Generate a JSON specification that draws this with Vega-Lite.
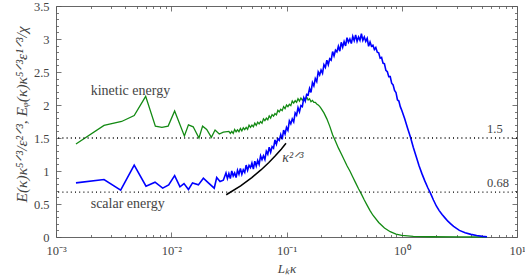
{
  "$schema": "https://vega.github.io/schema/vega-lite/v6.json",
  "width": 461,
  "height": 231,
  "autosize": "none",
  "padding": {"left": 56, "top": 6, "right": 8, "bottom": 40},
  "background": "white",
  "config": {
    "view": {"stroke": "#666", "strokeWidth": 1},
    "axis": {"domain": false, "grid": false, "tickColor": "#555", "tickWidth": 0.8, "labelFont": "Liberation Serif", "labelFontSize": 12.5, "labelColor": "#444", "titleFont": "Liberation Serif", "titleFontSize": 12.5, "titleColor": "#444", "titleFontWeight": "normal"}
  },
  "datasets": {
    "curves": [
      {"s":"kinetic","k":0.00149,"E":1.41},{"s":"kinetic","k":0.00261,"E":1.69},{"s":"kinetic","k":0.00371,"E":1.75},{"s":"kinetic","k":0.00477,"E":1.84},{"s":"kinetic","k":0.0060,"E":2.13},{"s":"kinetic","k":0.00728,"E":1.68},{"s":"kinetic","k":0.0083,"E":1.66},{"s":"kinetic","k":0.0094,"E":1.68},{"s":"kinetic","k":0.0107,"E":1.91},{"s":"kinetic","k":0.0130,"E":1.53},{"s":"kinetic","k":0.0141,"E":1.70},{"s":"kinetic","k":0.0155,"E":1.67},{"s":"kinetic","k":0.0174,"E":1.50},{"s":"kinetic","k":0.0187,"E":1.68},{"s":"kinetic","k":0.0203,"E":1.63},{"s":"kinetic","k":0.0223,"E":1.51},{"s":"kinetic","k":0.024,"E":1.62},{"s":"kinetic","k":0.0261,"E":1.56},{"s":"kinetic","k":0.0283,"E":1.59},
      {"s":"kinetic","k":0.03162,"E":1.60},{"s":"kinetic","k":0.03255,"E":1.57},{"s":"kinetic","k":0.0335,"E":1.60},{"s":"kinetic","k":0.03448,"E":1.57},{"s":"kinetic","k":0.03548,"E":1.63},{"s":"kinetic","k":0.03652,"E":1.595},{"s":"kinetic","k":0.03758,"E":1.625},{"s":"kinetic","k":0.03868,"E":1.595},{"s":"kinetic","k":0.03981,"E":1.645},{"s":"kinetic","k":0.04097,"E":1.607},{"s":"kinetic","k":0.04217,"E":1.655},{"s":"kinetic","k":0.0434,"E":1.627},{"s":"kinetic","k":0.04467,"E":1.66},{"s":"kinetic","k":0.04597,"E":1.632},{"s":"kinetic","k":0.04732,"E":1.695},{"s":"kinetic","k":0.0487,"E":1.662},{"s":"kinetic","k":0.05012,"E":1.695},{"s":"kinetic","k":0.05158,"E":1.67},{"s":"kinetic","k":0.05309,"E":1.725},{"s":"kinetic","k":0.05464,"E":1.69},{"s":"kinetic","k":0.05623,"E":1.74},{"s":"kinetic","k":0.05788,"E":1.715},{"s":"kinetic","k":0.05957,"E":1.75},{"s":"kinetic","k":0.06131,"E":1.725},{"s":"kinetic","k":0.0631,"E":1.79},{"s":"kinetic","k":0.06494,"E":1.762},{"s":"kinetic","k":0.06683,"E":1.80},{"s":"kinetic","k":0.06879,"E":1.777},{"s":"kinetic","k":0.07079,"E":1.835},{"s":"kinetic","k":0.07286,"E":1.802},{"s":"kinetic","k":0.07499,"E":1.855},{"s":"kinetic","k":0.07718,"E":1.832},{"s":"kinetic","k":0.07943,"E":1.87},{"s":"kinetic","k":0.08175,"E":1.85},{"s":"kinetic","k":0.08414,"E":1.92},{"s":"kinetic","k":0.0866,"E":1.895},{"s":"kinetic","k":0.08913,"E":1.935},{"s":"kinetic","k":0.09173,"E":1.915},{"s":"kinetic","k":0.09441,"E":1.975},{"s":"kinetic","k":0.09716,"E":1.945},{"s":"kinetic","k":0.1,"E":2.00},{"s":"kinetic","k":0.1029,"E":1.975},{"s":"kinetic","k":0.1059,"E":2.01},{"s":"kinetic","k":0.109,"E":1.99},{"s":"kinetic","k":0.1122,"E":2.06},{"s":"kinetic","k":0.1155,"E":2.03},{"s":"kinetic","k":0.1189,"E":2.065},{"s":"kinetic","k":0.1223,"E":2.04},{"s":"kinetic","k":0.1259,"E":2.095},{"s":"kinetic","k":0.1296,"E":2.06},{"s":"kinetic","k":0.1334,"E":2.105},{"s":"kinetic","k":0.1372,"E":2.075},{"s":"kinetic","k":0.1413,"E":2.105},{"s":"kinetic","k":0.1454,"E":2.07},{"s":"kinetic","k":0.1496,"E":2.12},{"s":"kinetic","k":0.154,"E":2.075},{"s":"kinetic","k":0.1585,"E":2.095},{"s":"kinetic","k":0.1631,"E":2.05},{"s":"kinetic","k":0.1679,"E":2.07},{"s":"kinetic","k":0.1728,"E":2.04},{"s":"kinetic","k":0.1778,"E":2.04},{"s":"kinetic","k":0.183,"E":2.015},{"s":"kinetic","k":0.1884,"E":2.00},{"s":"kinetic","k":0.1939,"E":1.98},{"s":"kinetic","k":0.1995,"E":1.95},{"s":"kinetic","k":0.2113,"E":1.88},{"s":"kinetic","k":0.2239,"E":1.79},{"s":"kinetic","k":0.2371,"E":1.68},{"s":"kinetic","k":0.2512,"E":1.55},{"s":"kinetic","k":0.2661,"E":1.45},{"s":"kinetic","k":0.2818,"E":1.35},{"s":"kinetic","k":0.2985,"E":1.26},{"s":"kinetic","k":0.3162,"E":1.17},{"s":"kinetic","k":0.335,"E":1.08},{"s":"kinetic","k":0.3548,"E":1.00},{"s":"kinetic","k":0.3758,"E":0.91},{"s":"kinetic","k":0.3981,"E":0.82},{"s":"kinetic","k":0.4217,"E":0.73},{"s":"kinetic","k":0.4467,"E":0.65},{"s":"kinetic","k":0.4732,"E":0.56},{"s":"kinetic","k":0.5012,"E":0.48},{"s":"kinetic","k":0.5309,"E":0.40},{"s":"kinetic","k":0.5623,"E":0.33},{"s":"kinetic","k":0.631,"E":0.22},{"s":"kinetic","k":0.7079,"E":0.135},{"s":"kinetic","k":0.7943,"E":0.08},{"s":"kinetic","k":0.8913,"E":0.045},{"s":"kinetic","k":1.0,"E":0.025},{"s":"kinetic","k":1.259,"E":0.01},{"s":"kinetic","k":1.778,"E":0.004},{"s":"kinetic","k":3.162,"E":0.001},{"s":"kinetic","k":5.495,"E":0.0},
      {"s":"scalar","k":0.00149,"E":0.82},{"s":"scalar","k":0.00261,"E":0.87},{"s":"scalar","k":0.00364,"E":0.71},{"s":"scalar","k":0.00477,"E":1.09},{"s":"scalar","k":0.00604,"E":0.77},{"s":"scalar","k":0.00723,"E":0.83},{"s":"scalar","k":0.00843,"E":0.74},{"s":"scalar","k":0.0095,"E":0.79},{"s":"scalar","k":0.0107,"E":0.93},{"s":"scalar","k":0.0119,"E":0.76},{"s":"scalar","k":0.0129,"E":0.81},{"s":"scalar","k":0.0141,"E":0.72},{"s":"scalar","k":0.0153,"E":0.82},{"s":"scalar","k":0.0172,"E":0.79},{"s":"scalar","k":0.019,"E":0.89},{"s":"scalar","k":0.021,"E":0.82},{"s":"scalar","k":0.0236,"E":0.74},{"s":"scalar","k":0.0248,"E":0.90},{"s":"scalar","k":0.0265,"E":0.84},{"s":"scalar","k":0.0283,"E":0.86},
      {"s":"scalar","k":0.02985,"E":0.97},{"s":"scalar","k":0.03072,"E":0.885},{"s":"scalar","k":0.03162,"E":0.96},{"s":"scalar","k":0.03255,"E":0.885},{"s":"scalar","k":0.0335,"E":1.00},{"s":"scalar","k":0.03448,"E":0.925},{"s":"scalar","k":0.03548,"E":0.97},{"s":"scalar","k":0.03652,"E":0.90},{"s":"scalar","k":0.03758,"E":1.01},{"s":"scalar","k":0.03868,"E":0.95},{"s":"scalar","k":0.03981,"E":1.04},{"s":"scalar","k":0.04097,"E":0.95},{"s":"scalar","k":0.04217,"E":1.02},{"s":"scalar","k":0.0434,"E":0.98},{"s":"scalar","k":0.04467,"E":1.09},{"s":"scalar","k":0.04597,"E":1.01},{"s":"scalar","k":0.04732,"E":1.085},{"s":"scalar","k":0.0487,"E":1.05},{"s":"scalar","k":0.05012,"E":1.12},{"s":"scalar","k":0.05158,"E":1.03},{"s":"scalar","k":0.05309,"E":1.15},{"s":"scalar","k":0.05464,"E":1.075},{"s":"scalar","k":0.05623,"E":1.16},{"s":"scalar","k":0.05788,"E":1.10},{"s":"scalar","k":0.05957,"E":1.23},{"s":"scalar","k":0.06131,"E":1.17},{"s":"scalar","k":0.0631,"E":1.23},{"s":"scalar","k":0.06494,"E":1.175},{"s":"scalar","k":0.06683,"E":1.30},{"s":"scalar","k":0.06879,"E":1.255},{"s":"scalar","k":0.07079,"E":1.36},{"s":"scalar","k":0.07286,"E":1.285},{"s":"scalar","k":0.07499,"E":1.37},{"s":"scalar","k":0.07718,"E":1.345},{"s":"scalar","k":0.07943,"E":1.47},{"s":"scalar","k":0.08175,"E":1.405},{"s":"scalar","k":0.08414,"E":1.49},{"s":"scalar","k":0.0866,"E":1.465},{"s":"scalar","k":0.08913,"E":1.55},{"s":"scalar","k":0.09173,"E":1.48},{"s":"scalar","k":0.09441,"E":1.62},{"s":"scalar","k":0.09716,"E":1.56},{"s":"scalar","k":0.1,"E":1.66},{"s":"scalar","k":0.1029,"E":1.615},{"s":"scalar","k":0.1059,"E":1.76},{"s":"scalar","k":0.109,"E":1.715},{"s":"scalar","k":0.1122,"E":1.79},{"s":"scalar","k":0.1155,"E":1.745},{"s":"scalar","k":0.1189,"E":1.88},{"s":"scalar","k":0.1223,"E":1.845},{"s":"scalar","k":0.1259,"E":1.96},{"s":"scalar","k":0.1296,"E":1.895},{"s":"scalar","k":0.1334,"E":1.99},{"s":"scalar","k":0.1372,"E":1.975},{"s":"scalar","k":0.1413,"E":2.11},{"s":"scalar","k":0.1454,"E":2.06},{"s":"scalar","k":0.1496,"E":2.16},{"s":"scalar","k":0.154,"E":2.15},{"s":"scalar","k":0.1585,"E":2.25},{"s":"scalar","k":0.1631,"E":2.19},{"s":"scalar","k":0.1679,"E":2.34},{"s":"scalar","k":0.1728,"E":2.29},{"s":"scalar","k":0.1778,"E":2.40},{"s":"scalar","k":0.183,"E":2.355},{"s":"scalar","k":0.1884,"E":2.50},{"s":"scalar","k":0.1939,"E":2.455},{"s":"scalar","k":0.1995,"E":2.53},{"s":"scalar","k":0.2054,"E":2.48},{"s":"scalar","k":0.2113,"E":2.61},{"s":"scalar","k":0.2175,"E":2.57},{"s":"scalar","k":0.2239,"E":2.68},{"s":"scalar","k":0.2304,"E":2.61},{"s":"scalar","k":0.2371,"E":2.70},{"s":"scalar","k":0.2441,"E":2.68},{"s":"scalar","k":0.2512,"E":2.81},{"s":"scalar","k":0.2585,"E":2.745},{"s":"scalar","k":0.2661,"E":2.83},{"s":"scalar","k":0.2738,"E":2.805},{"s":"scalar","k":0.2818,"E":2.89},{"s":"scalar","k":0.2901,"E":2.815},{"s":"scalar","k":0.2985,"E":2.95},{"s":"scalar","k":0.3072,"E":2.875},{"s":"scalar","k":0.3162,"E":2.96},{"s":"scalar","k":0.3255,"E":2.895},{"s":"scalar","k":0.335,"E":3.02},{"s":"scalar","k":0.3448,"E":2.95},{"s":"scalar","k":0.3548,"E":3.00},{"s":"scalar","k":0.3652,"E":2.93},{"s":"scalar","k":0.3758,"E":3.04},{"s":"scalar","k":0.3868,"E":2.975},{"s":"scalar","k":0.3981,"E":3.06},{"s":"scalar","k":0.4097,"E":2.965},{"s":"scalar","k":0.4217,"E":3.03},{"s":"scalar","k":0.434,"E":2.98},{"s":"scalar","k":0.4467,"E":3.08},{"s":"scalar","k":0.4597,"E":2.98},{"s":"scalar","k":0.4732,"E":3.03},{"s":"scalar","k":0.487,"E":2.965},{"s":"scalar","k":0.5012,"E":3.01},{"s":"scalar","k":0.5158,"E":2.89},{"s":"scalar","k":0.5309,"E":2.955},{"s":"scalar","k":0.5464,"E":2.89},{"s":"scalar","k":0.5623,"E":2.905},{"s":"scalar","k":0.5788,"E":2.84},{"s":"scalar","k":0.5957,"E":2.87},{"s":"scalar","k":0.6131,"E":2.80},{"s":"scalar","k":0.631,"E":2.79},{"s":"scalar","k":0.6494,"E":2.71},{"s":"scalar","k":0.6683,"E":2.72},{"s":"scalar","k":0.6879,"E":2.635},{"s":"scalar","k":0.7079,"E":2.625},{"s":"scalar","k":0.7286,"E":2.525},{"s":"scalar","k":0.7499,"E":2.505},{"s":"scalar","k":0.7718,"E":2.43},{"s":"scalar","k":0.7943,"E":2.43},{"s":"scalar","k":0.8175,"E":2.33},{"s":"scalar","k":0.8414,"E":2.305},{"s":"scalar","k":0.866,"E":2.22},{"s":"scalar","k":0.8913,"E":2.19},{"s":"scalar","k":0.9173,"E":2.08},{"s":"scalar","k":0.9441,"E":2.06},{"s":"scalar","k":0.9716,"E":1.975},{"s":"scalar","k":1.0,"E":1.92},{"s":"scalar","k":1.059,"E":1.795},{"s":"scalar","k":1.122,"E":1.65},{"s":"scalar","k":1.189,"E":1.515},{"s":"scalar","k":1.259,"E":1.36},{"s":"scalar","k":1.334,"E":1.22},{"s":"scalar","k":1.413,"E":1.08},{"s":"scalar","k":1.496,"E":0.96},{"s":"scalar","k":1.585,"E":0.85},{"s":"scalar","k":1.679,"E":0.75},{"s":"scalar","k":1.778,"E":0.66},{"s":"scalar","k":1.884,"E":0.56},{"s":"scalar","k":1.995,"E":0.47},{"s":"scalar","k":2.113,"E":0.40},{"s":"scalar","k":2.239,"E":0.34},{"s":"scalar","k":2.371,"E":0.29},{"s":"scalar","k":2.512,"E":0.24},{"s":"scalar","k":2.661,"E":0.20},{"s":"scalar","k":2.818,"E":0.16},{"s":"scalar","k":2.985,"E":0.13},{"s":"scalar","k":3.162,"E":0.10},{"s":"scalar","k":3.548,"E":0.065},{"s":"scalar","k":3.981,"E":0.04},{"s":"scalar","k":4.467,"E":0.022},{"s":"scalar","k":5.012,"E":0.01},{"s":"scalar","k":5.495,"E":0.004},
      {"s":"slope","k":0.03,"E":0.64},{"s":"slope","k":0.04,"E":0.775},{"s":"slope","k":0.05,"E":0.90},{"s":"slope","k":0.06,"E":1.016},{"s":"slope","k":0.07,"E":1.125},{"s":"slope","k":0.08,"E":1.23},{"s":"slope","k":0.09,"E":1.33},{"s":"slope","k":0.099,"E":1.42}
    ],
    "refs": [{"y":1.5,"label":"1.5"},{"y":0.68,"label":"0.68"}],
    "notes": [{"k":0.002,"E":2.21,"t":"kinetic energy"},{"k":0.002,"E":0.5,"t":"scalar energy"}]
  },
  "resolve": {"axis": {"x": "independent", "y": "independent"}},
  "layer": [
    {
      "data": {"name": "curves"},
      "transform": [{"filter": "datum.s == 'kinetic'"}],
      "mark": {"type": "line", "color": "#138a13", "strokeWidth": 1.3},
      "encoding": {
        "x": {"field": "k", "type": "quantitative", "scale": {"type": "log", "domain": [0.001, 10], "nice": false},
          "axis": {"orient": "bottom", "values": [0.001, 0.01, 0.1, 1, 10], "labelExpr": "datum.value < 0.005 ? '10⁻³' : datum.value < 0.05 ? '10⁻²' : datum.value < 0.5 ? '10⁻¹' : datum.value < 5 ? '10⁰' : '10¹'", "tickSize": -5, "labelPadding": 12, "title": "Lₖκ", "titleFontStyle": "italic", "titleFontSize": 13, "titlePadding": 6, "labelFlush": false}},
        "y": {"field": "E", "type": "quantitative", "scale": {"domain": [0, 3.5], "nice": false},
          "axis": {"orient": "left", "values": [0, 0.5, 1, 1.5, 2, 2.5, 3, 3.5], "labelExpr": "'' + datum.value", "tickSize": -5, "labelPadding": 12, "title": "E(κ)κ⁵ᐟ³/ε²ᐟ³,  Eᵩ(κ)κ⁵ᐟ³ε¹ᐟ³/χ", "titleFontStyle": "italic", "titleFontSize": 15.5, "titlePadding": 4, "titleY": 108, "labelFlush": false}}
      }
    },
    {
      "data": {"name": "curves"},
      "transform": [{"filter": "datum.s == 'scalar'"}],
      "mark": {"type": "line", "color": "#0000ff", "strokeWidth": 1.6},
      "encoding": {
        "x": {"field": "k", "type": "quantitative", "scale": {"type": "log", "domain": [0.001, 10], "nice": false},
          "axis": {"orient": "bottom", "values": [0.002,0.003,0.004,0.005,0.006,0.007,0.008,0.009,0.02,0.03,0.04,0.05,0.06,0.07,0.08,0.09,0.2,0.3,0.4,0.5,0.6,0.7,0.8,0.9,2,3,4,5,6,7,8,9], "labels": false, "tickSize": -2.5, "title": null}},
        "y": {"field": "E", "type": "quantitative", "scale": {"domain": [0, 3.5], "nice": false},
          "axis": {"orient": "left", "values": [0.1,0.2,0.3,0.4,0.6,0.7,0.8,0.9,1.1,1.2,1.3,1.4,1.6,1.7,1.8,1.9,2.1,2.2,2.3,2.4,2.6,2.7,2.8,2.9,3.1,3.2,3.3,3.4], "labels": false, "tickSize": -2.5, "title": null}}
      }
    },
    {
      "data": {"name": "curves"},
      "transform": [{"filter": "datum.s == 'slope'"}],
      "mark": {"type": "line", "color": "#000000", "strokeWidth": 1.5},
      "encoding": {
        "x": {"field": "k", "type": "quantitative", "scale": {"type": "log", "domain": [0.001, 10], "nice": false},
          "axis": {"orient": "top", "values": [0.001, 0.01, 0.1, 1, 10], "labels": false, "tickSize": -5, "title": null}},
        "y": {"field": "E", "type": "quantitative", "scale": {"domain": [0, 3.5], "nice": false},
          "axis": {"orient": "right", "values": [0, 0.5, 1, 1.5, 2, 2.5, 3, 3.5], "labels": false, "tickSize": -5, "title": null}}
      }
    },
    {
      "data": {"name": "notes"},
      "mark": {"type": "text", "align": "left", "baseline": "middle", "font": "Liberation Serif", "fontSize": 14, "color": "#444"},
      "encoding": {
        "x": {"field": "k", "type": "quantitative", "scale": {"type": "log", "domain": [0.001, 10], "nice": false},
          "axis": {"orient": "top", "values": [0.002,0.003,0.004,0.005,0.006,0.007,0.008,0.009,0.02,0.03,0.04,0.05,0.06,0.07,0.08,0.09,0.2,0.3,0.4,0.5,0.6,0.7,0.8,0.9,2,3,4,5,6,7,8,9], "labels": false, "tickSize": -2.5, "title": null}},
        "y": {"field": "E", "type": "quantitative", "scale": {"domain": [0, 3.5], "nice": false},
          "axis": {"orient": "right", "values": [0.1,0.2,0.3,0.4,0.6,0.7,0.8,0.9,1.1,1.2,1.3,1.4,1.6,1.7,1.8,1.9,2.1,2.2,2.3,2.4,2.6,2.7,2.8,2.9,3.1,3.2,3.3,3.4], "labels": false, "tickSize": -2.5, "title": null}},
        "text": {"field": "t"}
      }
    },
    {
      "data": {"values": [{"k": 0.092, "E": 1.2, "t": "κ²ᐟ³"}]},
      "mark": {"type": "text", "align": "left", "baseline": "middle", "font": "Liberation Serif", "fontSize": 14, "fontStyle": "italic", "color": "#444"},
      "encoding": {
        "x": {"field": "k", "type": "quantitative", "scale": {"type": "log", "domain": [0.001, 10], "nice": false}, "axis": null},
        "y": {"field": "E", "type": "quantitative", "scale": {"domain": [0, 3.5], "nice": false}, "axis": null},
        "text": {"field": "t"}
      }
    },
    {
      "data": {"name": "refs"},
      "mark": {"type": "rule", "color": "#000", "strokeWidth": 1.3, "strokeDash": [1, 3.2]},
      "encoding": {
        "y": {"field": "y", "type": "quantitative", "scale": {"domain": [0, 3.5], "nice": false}, "axis": null}
      }
    },
    {
      "data": {"name": "refs"},
      "mark": {"type": "text", "align": "left", "baseline": "bottom", "dy": -2, "font": "Liberation Serif", "fontSize": 12.5, "color": "#444"},
      "encoding": {
        "x": {"datum": 5.5, "type": "quantitative", "scale": {"type": "log", "domain": [0.001, 10], "nice": false}, "axis": null},
        "y": {"field": "y", "type": "quantitative", "scale": {"domain": [0, 3.5], "nice": false}, "axis": null},
        "text": {"field": "label"}
      }
    }
  ]
}
